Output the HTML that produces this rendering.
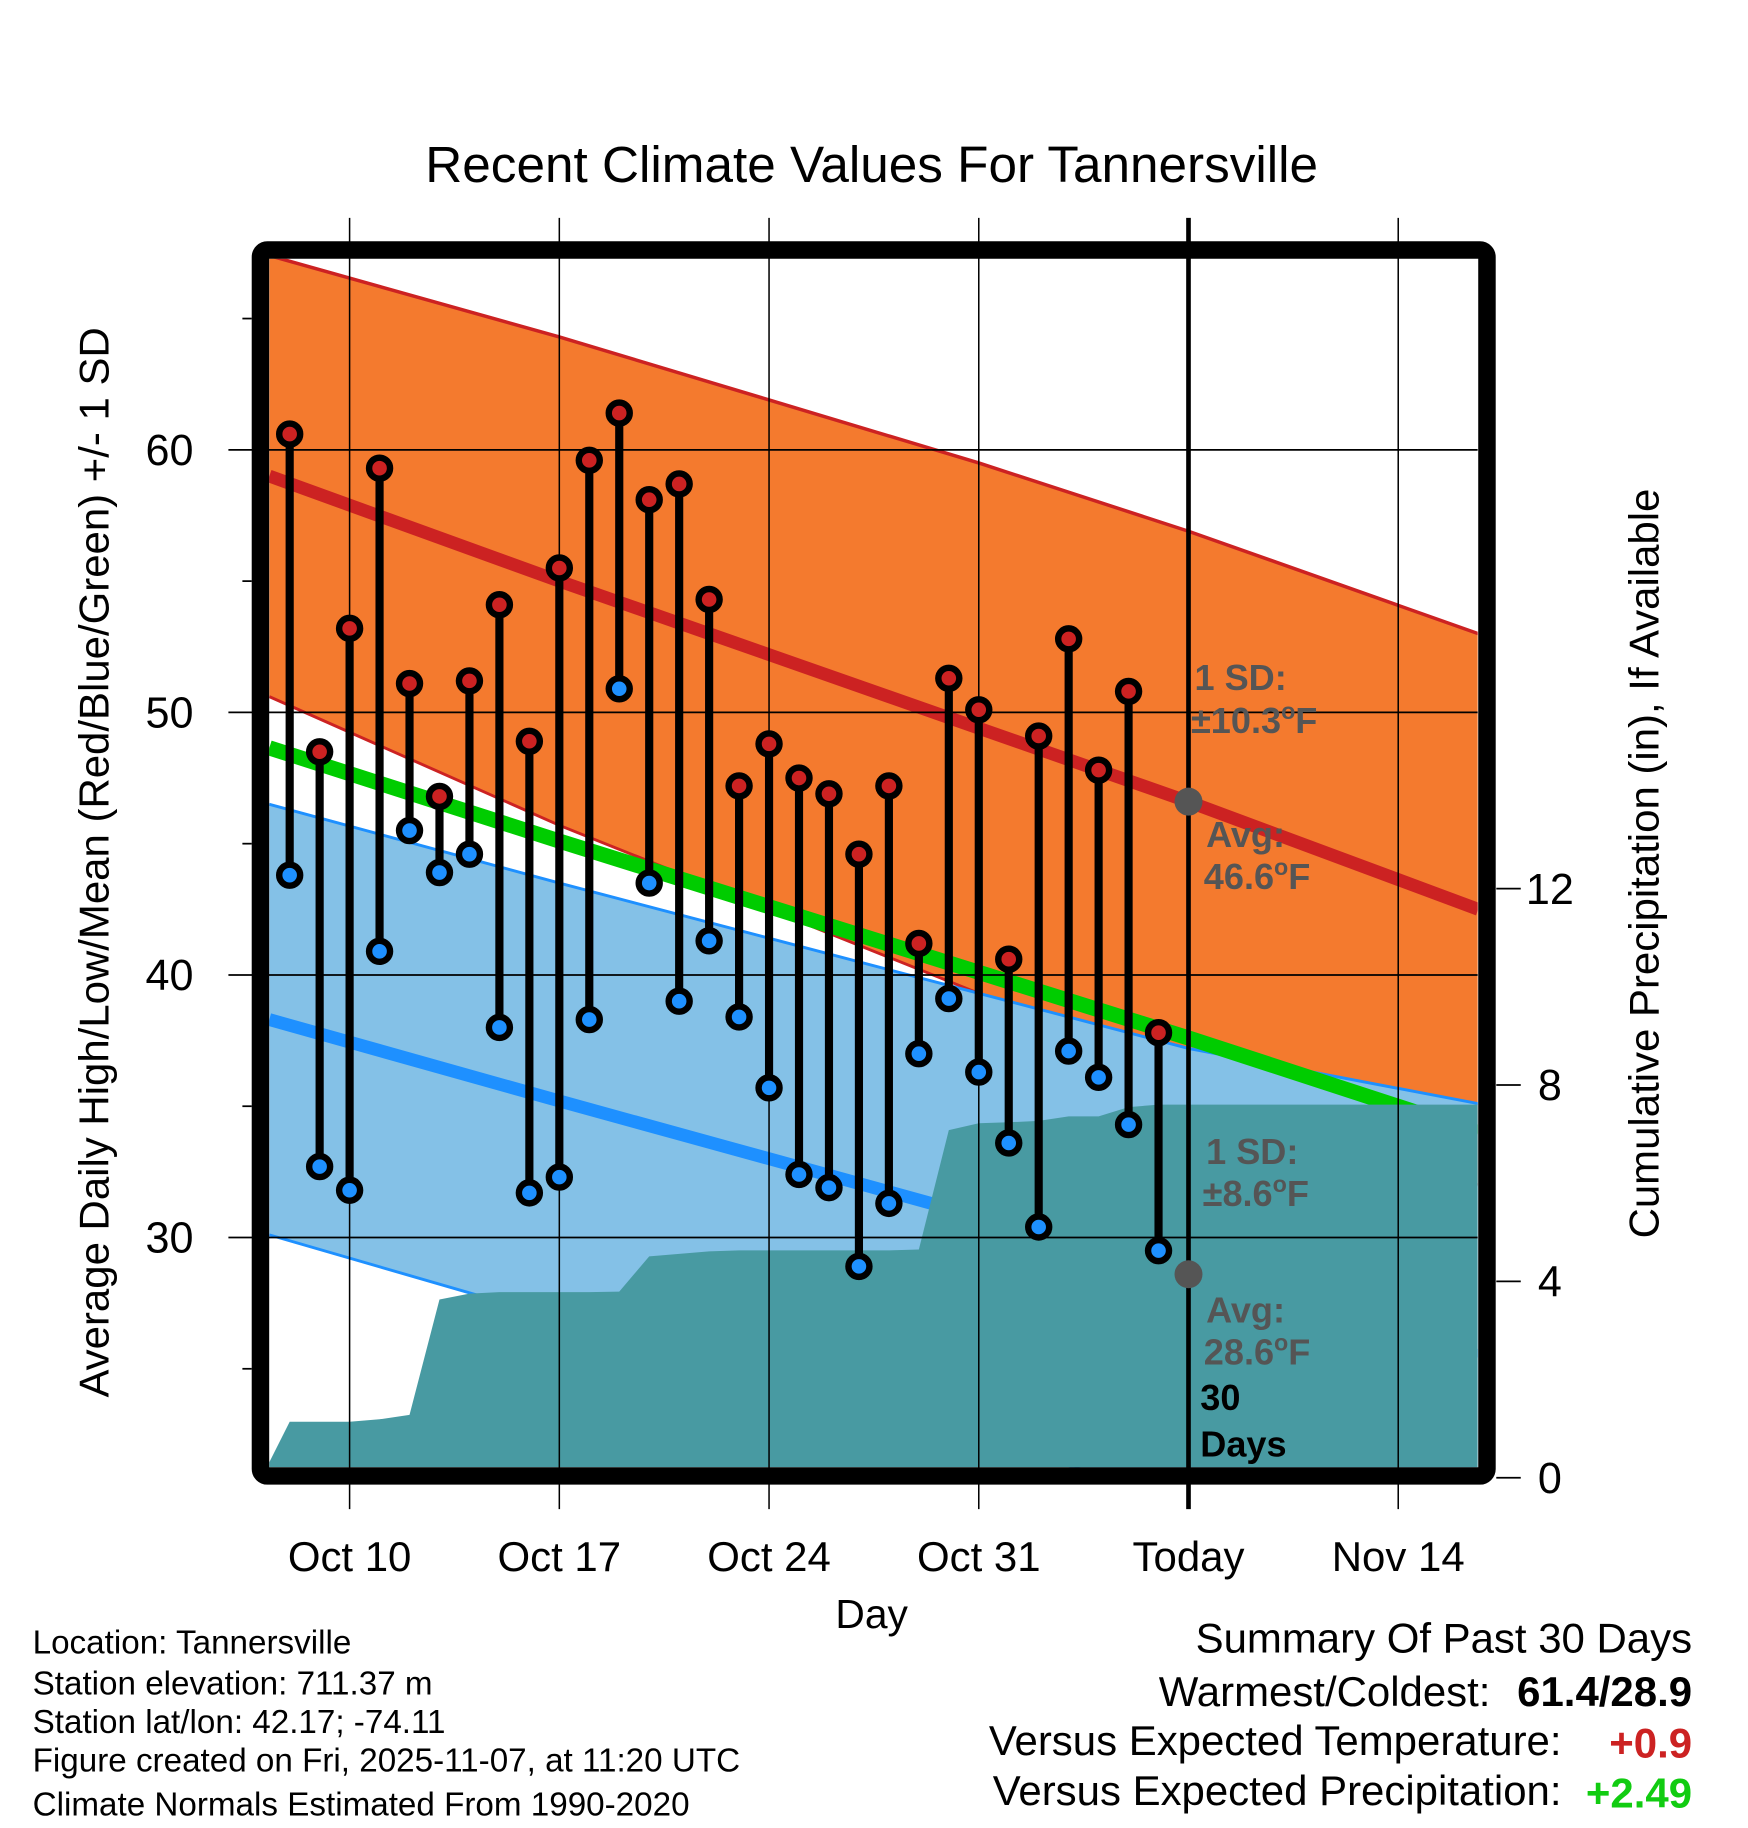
<!DOCTYPE html>
<html><head><meta charset="utf-8"><style>
html,body{margin:0;padding:0;background:#fff;}
svg{display:block;font-family:"Liberation Sans",sans-serif;}
</style></head><body>
<svg id="chart" width="1748" height="1828" viewBox="0 0 1500 1568.6" preserveAspectRatio="none" xmlns="http://www.w3.org/2000/svg">
<text x="748" y="156" font-size="44" text-anchor="middle">Recent Climate Values For Tannersville</text>
<g id="plot"></g>
<text transform="translate(93,740) rotate(-90)" font-size="36" text-anchor="middle">Average Daily High/Low/Mean (Red/Blue/Green) +/- 1 SD</text>
<text transform="translate(1423,741) rotate(-90)" font-size="36" text-anchor="middle">Cumulative Precipitation (in), If Available</text>
<text x="748" y="1397" font-size="35" text-anchor="middle">Day</text>
<g font-size="28.5">
<text x="28" y="1419">Location: Tannersville</text>
<text x="28" y="1454">Station elevation: 711.37 m</text>
<text x="28" y="1487">Station lat/lon: 42.17; -74.11</text>
<text x="28" y="1520">Figure created on Fri, 2025-11-07, at 11:20 UTC</text>
<text x="28" y="1558">Climate Normals Estimated From 1990-2020</text>
</g>
<g font-size="36" text-anchor="end">
<text x="1452" y="1418">Summary Of Past 30 Days</text>
<text x="1279" y="1464">Warmest/Coldest:</text>
<text x="1452" y="1464" font-weight="bold">61.4/28.9</text>
<text x="1340" y="1506">Versus Expected Temperature:</text>
<text x="1452" y="1508" font-weight="bold" fill="#cc2222">+0.9</text>
<text x="1340" y="1549">Versus Expected Precipitation:</text>
<text x="1452" y="1551" font-weight="bold" fill="#11cc11">+2.49</text>
</g>
</svg>
<script>
// ---- data ----
const days = ["Oct 8","Oct 9","Oct 10","Oct 11","Oct 12","Oct 13","Oct 14","Oct 15","Oct 16","Oct 17","Oct 18","Oct 19","Oct 20","Oct 21","Oct 22","Oct 23","Oct 24","Oct 25","Oct 26","Oct 27","Oct 28","Oct 29","Oct 30","Oct 31","Nov 1","Nov 2","Nov 3","Nov 4","Nov 5","Nov 6"];
const highs = [60.6,48.5,53.2,59.3,51.1,46.8,51.2,54.1,48.9,55.5,59.6,61.4,58.1,58.7,54.3,47.2,48.8,47.5,46.9,44.6,47.2,41.2,51.3,50.1,40.6,49.1,52.8,47.8,50.8,37.8];
const lows = [43.8,32.7,31.8,40.9,45.5,43.9,44.6,38.0,31.7,32.3,38.3,50.9,43.5,39.0,41.3,38.4,35.7,32.4,31.9,28.9,31.3,37.0,39.1,36.3,33.6,30.4,37.1,36.1,34.3,29.5];
const precip = [1.14,1.14,1.14,1.19,1.28,3.63,3.75,3.78,3.78,3.78,3.78,3.79,4.51,4.56,4.61,4.63,4.63,4.63,4.63,4.63,4.63,4.65,7.08,7.22,7.24,7.27,7.36,7.36,7.55,7.60];
const normDays = [-2.68,7,14,21,28,37.67];
const normHigh = [59.0,55.0,52.2,49.4,46.6,42.5];
const highSD = [8.4,9.3,9.7,10.1,10.3,10.5];
const normLow = [38.3,35.2,33.0,30.8,28.6,25.5];
const lowSD = [8.2,8.3,8.4,8.5,8.6,9.6];
const yTicks = [30,40,50,60];
const yMinor = [25,35,45,55,65];
const pTicks = [0,4,8,12];
const xTickDays = [0,7,14,21,28,35];
const xTickLabels = ["Oct 10","Oct 17","Oct 24","Oct 31","Today","Nov 14"];

// ---- scales ----
const L=231,R=1268,T=222,B=1259;
const xs = d => 300 + d*25.71;
const ys = t => 386 + (60-t)*22.53;
const yp = p => 1268 - p*42.12;
const NS="http://www.w3.org/2000/svg";
const g=document.getElementById('plot');
function mk(tag,attrs,parent){const e=document.createElementNS(NS,tag);for(const k in attrs)e.setAttribute(k,attrs[k]);(parent||g).appendChild(e);return e;}

const defs=mk('defs',{});
const cp=mk('clipPath',{id:'pc'},defs);
mk('rect',{x:L,y:T,width:R-L,height:B-T},cp);
const cg=mk('g',{'clip-path':'url(#pc)'});

function band(arrA,arrB,sa,sb){
  let pts=[];
  normDays.forEach((d,i)=>pts.push(xs(d)+','+ys(arrA[i]+sa*arrB[i])));
  for(let i=normDays.length-1;i>=0;i--)pts.push(xs(normDays[i])+','+ys(arrA[i]+sb*arrB[i]));
  return pts.join(' ');
}
function line(fn){return normDays.map((d,i)=>xs(d)+','+ys(fn(i))).join(' ');}

const hb=mk('polygon',{points:band(normHigh,highSD,1,-1),fill:'#f47a2e'},cg);


const hu=mk('polyline',{points:line(i=>normHigh[i]+highSD[i]),fill:'none',stroke:'#cc2222','stroke-width':3},cg);


const hl=mk('polyline',{points:line(i=>normHigh[i]-highSD[i]),fill:'none',stroke:'#cc2222','stroke-width':2.5},cg);


const lb=mk('polygon',{points:band(normLow,lowSD,1,-1),fill:'#84c1e7'},cg);


const lu=mk('polyline',{points:line(i=>normLow[i]+lowSD[i]),fill:'none',stroke:'#1e90ff','stroke-width':2.5},cg);


const ll=mk('polyline',{points:line(i=>normLow[i]-lowSD[i]),fill:'none',stroke:'#1e90ff','stroke-width':2.5},cg);


const ml=mk('polyline',{points:line(i=>(normHigh[i]+normLow[i])/2),fill:'none',stroke:'#00cc00','stroke-width':13},cg);


const nh=mk('polyline',{points:line(i=>normHigh[i]),fill:'none',stroke:'#cc2222','stroke-width':11},cg);


const nl=mk('polyline',{points:line(i=>normLow[i]),fill:'none',stroke:'#1e90ff','stroke-width':11},cg);



// precipitation area
let pp=[L+','+B, L+','+(B-4)];
precip.forEach((p,i)=>pp.push(xs(i-2)+','+yp(p)));
pp.push(R+','+yp(precip[precip.length-1]), R+','+B);
const pa=mk('polygon',{points:pp.join(' '),fill:'#489aa2'},cg);



// grid
yTicks.forEach(t=>{
  const l=mk('line',{x1:196,x2:R,y1:ys(t),y2:ys(t),stroke:'#000','stroke-width':1.5});
  
  
  const tx=mk('text',{x:166,y:ys(t)+13,'font-size':37,'text-anchor':'end'});
  tx.textContent=t;
  
  
});
yMinor.forEach(t=>{
  const l=mk('line',{x1:208,x2:216,y1:ys(t),y2:ys(t),stroke:'#000','stroke-width':1.5});
  
  
});
pTicks.forEach(p=>{
  const l=mk('line',{x1:1284,x2:1305,y1:yp(p),y2:yp(p),stroke:'#000','stroke-width':1.5});
  
  
  const tx=mk('text',{x:1330,y:yp(p)+13,'font-size':37,'text-anchor':'middle'});
  tx.textContent=p;
  
  
});
xTickDays.forEach((d,i)=>{
  const l=mk('line',{x1:xs(d),x2:xs(d),y1:187,y2:1295,stroke:'#000','stroke-width':i==4?4:1.3});
  
  
  const tx=mk('text',{x:xs(d),y:1348,'font-size':36,'text-anchor':'middle'});
  tx.textContent=xTickLabels[i];
  
  
});

// stems and points
days.forEach((dn,i)=>{
  const x=xs(i-2);
  const s=mk('line',{x1:x,x2:x,y1:ys(highs[i]),y2:ys(lows[i]),stroke:'#000','stroke-width':7});
  
  
  const h=mk('circle',{cx:x,cy:ys(highs[i]),r:9,fill:'#cc2222',stroke:'#000','stroke-width':5.5});
  
  
  const lo=mk('circle',{cx:x,cy:ys(lows[i]),r:9,fill:'#1e90ff',stroke:'#000','stroke-width':5.5});
  
  
});

const dh=mk('circle',{cx:xs(28),cy:ys(normHigh[4]),r:12,fill:'#555'});


const dl=mk('circle',{cx:xs(28),cy:ys(normLow[4]),r:12,fill:'#555'});


function ann(x,y,html,name,col){
  const t=mk('text',{x:x,y:y,'font-size':31,'font-weight':'bold',fill:col||'#555'});
  t.innerHTML=html;
  
  
}
ann(1025,592,'1 SD:','high-sd-label');
ann(1022,629,'±10.3<tspan dy="-12" font-size="20">o</tspan><tspan dy="12">F</tspan>','high-sd-value');
ann(1035,727,'Avg:','high-avg-label');
ann(1033,763,'46.6<tspan dy="-12" font-size="20">o</tspan><tspan dy="12">F</tspan>','high-avg-value');
ann(1035,999,'1 SD:','low-sd-label');
ann(1032,1035,'±8.6<tspan dy="-12" font-size="20">o</tspan><tspan dy="12">F</tspan>','low-sd-value');
ann(1035,1135,'Avg:','low-avg-label');
ann(1033,1171,'28.6<tspan dy="-12" font-size="20">o</tspan><tspan dy="12">F</tspan>','low-avg-value');
ann(1030,1210,'30','days-count','#000');
ann(1030,1250,'Days','days-label','#000');

const fr=mk('rect',{x:223.5,y:214.5,width:1052.5,height:1052,rx:6,fill:'none',stroke:'#000','stroke-width':15});


</script>
</body></html>
